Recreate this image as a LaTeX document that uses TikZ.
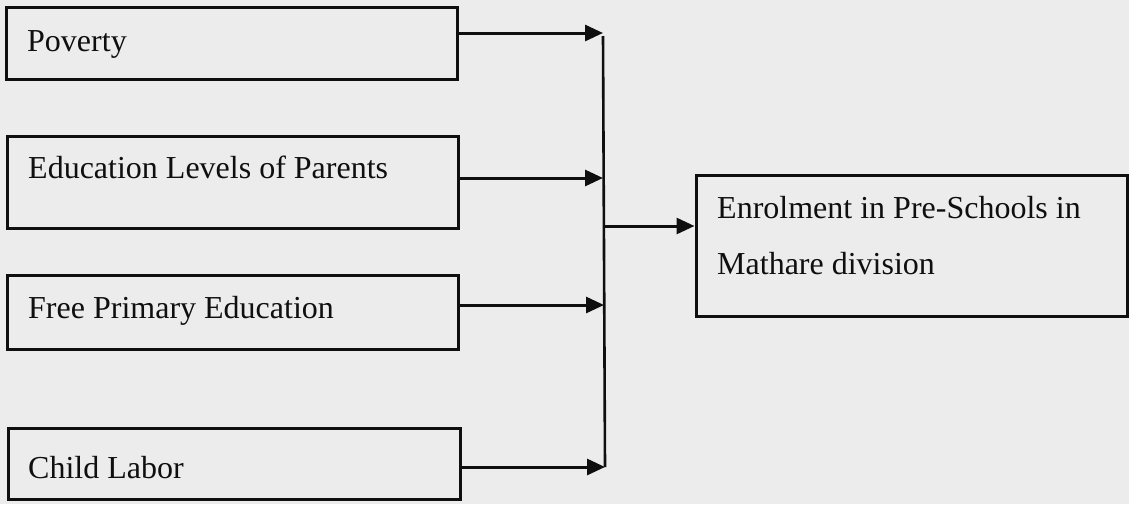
\documentclass[tikz,border=0pt]{standalone}
\usepackage{fontspec}
\setmainfont{Liberation Serif}
\usetikzlibrary{arrows.meta}
\definecolor{paper}{RGB}{236,236,236}
\definecolor{ink}{RGB}{15,15,15}
\begin{document}
\begin{tikzpicture}[x=1pt,y=-1pt,
  box/.style={draw=ink,line width=3pt,rectangle,inner sep=0pt},
  lbl/.style={anchor=base west,inner sep=0pt,text=ink,font=\fontsize{32}{37}\selectfont},
  conn/.style={draw=ink,line width=3pt,-{Triangle[length=18pt,width=16pt]}},
  bus/.style={draw=ink,line width=2.6pt}]
\fill[paper] (0,0) rectangle (1129,504);
\useasboundingbox (0,0) rectangle (1129,504);
% factor boxes
\node[box,minimum width=451pt,minimum height=72pt] (pov) at (231.5,43) {};
\node[box,minimum width=451pt,minimum height=92pt] (edu) at (232.5,182) {};
\node[box,minimum width=451pt,minimum height=74pt] (fpe) at (233,312) {};
\node[box,minimum width=452pt,minimum height=71pt] (chl) at (234,463.5) {};
\node[box,minimum width=431pt,minimum height=141pt] (enr) at (911.5,246) {};
% labels
\node[lbl] (tpov) at (27,51) {Poverty};
\node[lbl] (tedu) at (28,178) {Education Levels of Parents};
\node[lbl] (tfpe) at (28,318) {Free Primary Education};
\node[lbl] (tchl) at (28,478) {Child Labor};
\node[lbl] (tenr1) at (717,218) {Enrolment in Pre-Schools in};
\node[lbl] (tenr2) at (717,274) {Mathare division};
% bus coordinates
\coordinate (b1) at (603,33);
\coordinate (b2) at (603,178);
\coordinate (b3) at (604,305);
\coordinate (b4) at (605,467);
\coordinate (btop) at (603,36);
\coordinate (bmid) at (603,226);
% connectors
\draw[conn] (pov.east |- b1) -- (b1);
\draw[conn] (edu.east |- b2) -- (b2);
\draw[conn] (fpe.east |- b3) -- (b3);
\draw[conn] (chl.east |- b4) -- (b4);
\draw[bus] (btop) -- (b4);
\draw[conn] (bmid) -- (enr.west |- bmid);
\end{tikzpicture}
\end{document}
